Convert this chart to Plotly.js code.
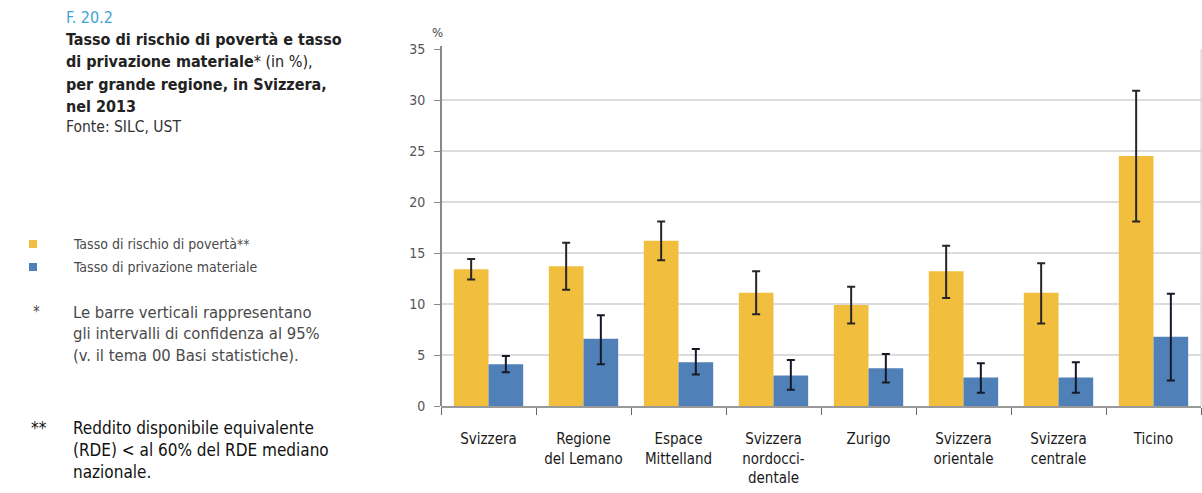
<!DOCTYPE html>
<html>
<head>
<meta charset="utf-8">
<script src="https://cdn.plot.ly/plotly-3.0.1.min.js"></script>
<style>
html,body{margin:0;padding:0;background:#fff;}
#chart{width:1202px;height:493px;}
</style>
</head>
<body>
<div id="chart"></div>
<script>
// ---- data ----
var categories = ["Svizzera", "Regione<br>del Lemano", "Espace<br>Mittelland", "Svizzera<br>nordocci-<br>dentale", "Zurigo", "Svizzera<br>orientale", "Svizzera<br>centrale", "Ticino"];
var povertyRate = [13.4, 13.7, 16.2, 11.1, 9.9, 13.2, 11.1, 24.5];
var povertyErrPlus = [1.0, 2.3, 1.9, 2.1, 1.8, 2.5, 2.9, 6.4];
var povertyErrMinus = [1.0, 2.3, 1.9, 2.1, 1.8, 2.6, 3.0, 6.4];
var deprivationRate = [4.1, 6.6, 4.3, 3.0, 3.7, 2.8, 2.8, 6.8];
var deprivationErrPlus = [0.8, 2.3, 1.3, 1.5, 1.4, 1.4, 1.5, 4.2];
var deprivationErrMinus = [0.8, 2.5, 1.2, 1.4, 1.4, 1.5, 1.5, 4.3];
var yTicks = [0, 5, 10, 15, 20, 25, 30, 35];
var seriesNames = ["Tasso di rischio di povertà**", "Tasso di privazione materiale"];

var FONT = '"DejaVu Sans Condensed", "Liberation Sans Narrow", Arial, sans-serif';
var YELLOW = '#F2BE3E';
var BLUE = '#5080B8';

var traces = [
  {
    type: 'bar', name: seriesNames[0], x: categories, y: povertyRate,
    marker: {color: YELLOW},
    error_y: {type: 'data', symmetric: false, array: povertyErrPlus, arrayminus: povertyErrMinus,
              color: '#262626', thickness: 2, width: 4}
  },
  {
    type: 'bar', name: seriesNames[1], x: categories, y: deprivationRate,
    marker: {color: BLUE},
    error_y: {type: 'data', symmetric: false, array: deprivationErrPlus, arrayminus: deprivationErrMinus,
              color: '#161a26', thickness: 2, width: 4}
  }
];

// helpers: pixel position to paper coordinate
var L = 441, W = 760;
function px(x){ return (x - L) / W; }
var T = 49, H = 357;
function py(y){ return 1 - (y - T) / H; }
function note(text, x, y, size, color){
  return {text: text, x: px(x), y: py(y), xref: 'paper', yref: 'paper', xanchor: 'left', yanchor: 'middle',
          showarrow: false, font: {family: FONT, size: size, color: color}};
}

var annotations = [
  {text: '%', x: px(437), y: py(33), xref: 'paper', yref: 'paper', xanchor: 'center', yanchor: 'middle', showarrow: false,
   font: {family: FONT, size: 13, color: '#444'}},
  note('F. 20.2', 64, 17, 16, '#3fa3d6'),
  note('<b>Tasso di rischio di povertà e tasso</b>', 64, 39, 16, '#222'),
  note('<b>di privazione materiale</b>* (in %),', 64, 61, 16, '#222'),
  note('<b>per grande regione, in Svizzera,</b>', 64, 84, 16, '#222'),
  note('<b>nel 2013</b>', 64, 106, 16, '#222'),
  note('Fonte: SILC, UST', 64, 127, 15.5, '#333'),
  note(seriesNames[0], 71, 244, 14, '#4a4a4a'),
  note(seriesNames[1], 71, 267, 14, '#4a4a4a'),
  note('*', 31, 312, 15, '#4a4a4a'),
  note('Le barre verticali rappresentano', 71, 312, 16.5, '#4a4a4a'),
  note('gli intervalli di confidenza al 95%', 71, 333, 16.5, '#4a4a4a'),
  note('(v. il tema 00 Basi statistiche).', 71, 355, 16.5, '#4a4a4a'),
  note('**', 29, 428, 17, '#111'),
  note('Reddito disponibile equivalente', 71, 428, 17, '#111'),
  note('(RDE) < al 60% del RDE mediano', 71, 450, 17, '#111'),
  note('nazionale.', 71, 472, 17, '#111')
];

var shapes = [
  {type: 'rect', xref: 'paper', yref: 'paper', x0: px(29), x1: px(37), y0: py(240), y1: py(248), fillcolor: YELLOW, line: {width: 0}},
  {type: 'rect', xref: 'paper', yref: 'paper', x0: px(29), x1: px(37), y0: py(263), y1: py(271), fillcolor: BLUE, line: {width: 0}},
  {type: 'line', xref: 'paper', yref: 'paper', x0: 0, x1: 0, y0: 0, y1: py(46), line: {color: '#888', width: 2}},
  {type: 'line', xref: 'paper', yref: 'paper', x0: 1, x1: 1, y0: 0, y1: 1, line: {color: '#ccc', width: 1}}
];

var layout = {
  width: 1202, height: 493,
  margin: {l: L, r: 1202 - L - W, t: T, b: 493 - T - H, pad: 0},
  paper_bgcolor: '#fff', plot_bgcolor: '#fff',
  showlegend: false,
  barmode: 'group', bargap: 0.27, bargroupgap: 0,
  font: {family: FONT, color: '#333'},
  xaxis: {
    type: 'category', tickson: 'boundaries', ticks: 'outside', ticklen: 7, tickwidth: 1, tickcolor: '#666',
    showgrid: false, showline: true, linecolor: '#999', linewidth: 2,
    ticklabelstandoff: 18,
    tickfont: {family: FONT, size: 15, color: '#1a1a1a'}, automargin: false
  },
  yaxis: {
    range: [0, 35], tickvals: yTicks, ticktext: yTicks.map(String),
    ticks: 'outside', ticklen: 6, tickcolor: '#888', tickwidth: 1,
    showgrid: true, gridcolor: '#dcdcdc', gridwidth: 2,
    showline: false, zeroline: false,
    ticklabelstandoff: 6,
    tickfont: {family: FONT, size: 14, color: '#555'}, automargin: false
  },
  annotations: annotations,
  shapes: shapes
};

Plotly.newPlot('chart', traces, layout, {displayModeBar: false, staticPlot: true});
</script>
</body>
</html>
